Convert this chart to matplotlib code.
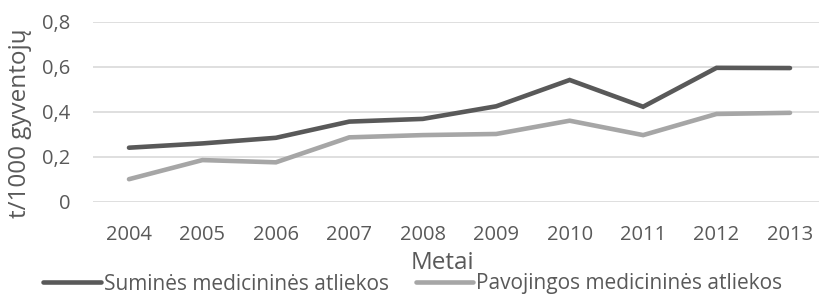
import matplotlib
matplotlib.use("Agg")
import matplotlib.pyplot as plt
from matplotlib.ticker import FuncFormatter

years = ["2004", "2005", "2006", "2007", "2008", "2009", "2010", "2011", "2012", "2013"]
suminės = [0.240, 0.259, 0.284, 0.356, 0.368, 0.424, 0.541, 0.422, 0.595, 0.594]
pavojingos = [0.100, 0.185, 0.175, 0.286, 0.296, 0.301, 0.360, 0.296, 0.390, 0.395]
yticks = [0, 0.2, 0.4, 0.6, 0.8]

plt.rcParams['font.family'] = ['Open Sans', 'DejaVu Sans']
txt = '#595959'

fig = plt.figure(figsize=(8.19, 2.96), dpi=100)
ax = fig.add_axes([92.5 / 819, 1 - 201.7 / 296, (819 - 92.5) / 819, 180 / 296])

x = range(len(years))
ax.plot(x, suminės, color='#595959', linewidth=3.3, solid_capstyle='round',
        solid_joinstyle='miter', label='Suminės medicininės atliekos', zorder=3)
ax.plot(x, pavojingos, color='#a6a6a6', linewidth=3.3, solid_capstyle='round',
        solid_joinstyle='miter', label='Pavojingos medicininės atliekos', zorder=3)

ax.set_xlim(-0.497, 9.395)
ax.set_ylim(0, 0.8)
ax.set_yticks(yticks)
ax.yaxis.set_major_formatter(FuncFormatter(lambda v, p: '0' if v == 0 else f'{v:.1f}'.replace('.', ',')))
ax.set_xticks(list(x))
ax.set_xticklabels(years)
ax.grid(axis='y', color='#d9d9d9', linewidth=1.2, zorder=0)
ax.set_axisbelow(True)
for s in ax.spines.values():
    s.set_visible(False)
ax.tick_params(length=0, labelsize=14.5, labelcolor=txt)
ax.tick_params(axis='x', pad=16.5)
ax.tick_params(axis='y', pad=16)

ax.set_xlabel('Metai', fontsize=17.5, color=txt)
ax.xaxis.set_label_coords((442 - 92.5) / 726.5, -(263 - 201.7) / 180)
ax.xaxis.label.set_va('center')
ax.set_ylabel('t/1000 gyventojų', fontsize=17.5, color=txt)
ax.yaxis.set_label_coords(-(92.5 - 20) / 726.5, (201.7 - 123) / 180)
ax.yaxis.label.set_va('center')

fig.legend(loc='center', bbox_to_anchor=(413 / 819, 1 - 284 / 296), ncol=2, frameon=False,
           fontsize=15, labelcolor=txt, handlelength=2.75, handletextpad=0.15,
           columnspacing=1.3, borderpad=0, borderaxespad=0)

fig.savefig('out.png', dpi=100)
